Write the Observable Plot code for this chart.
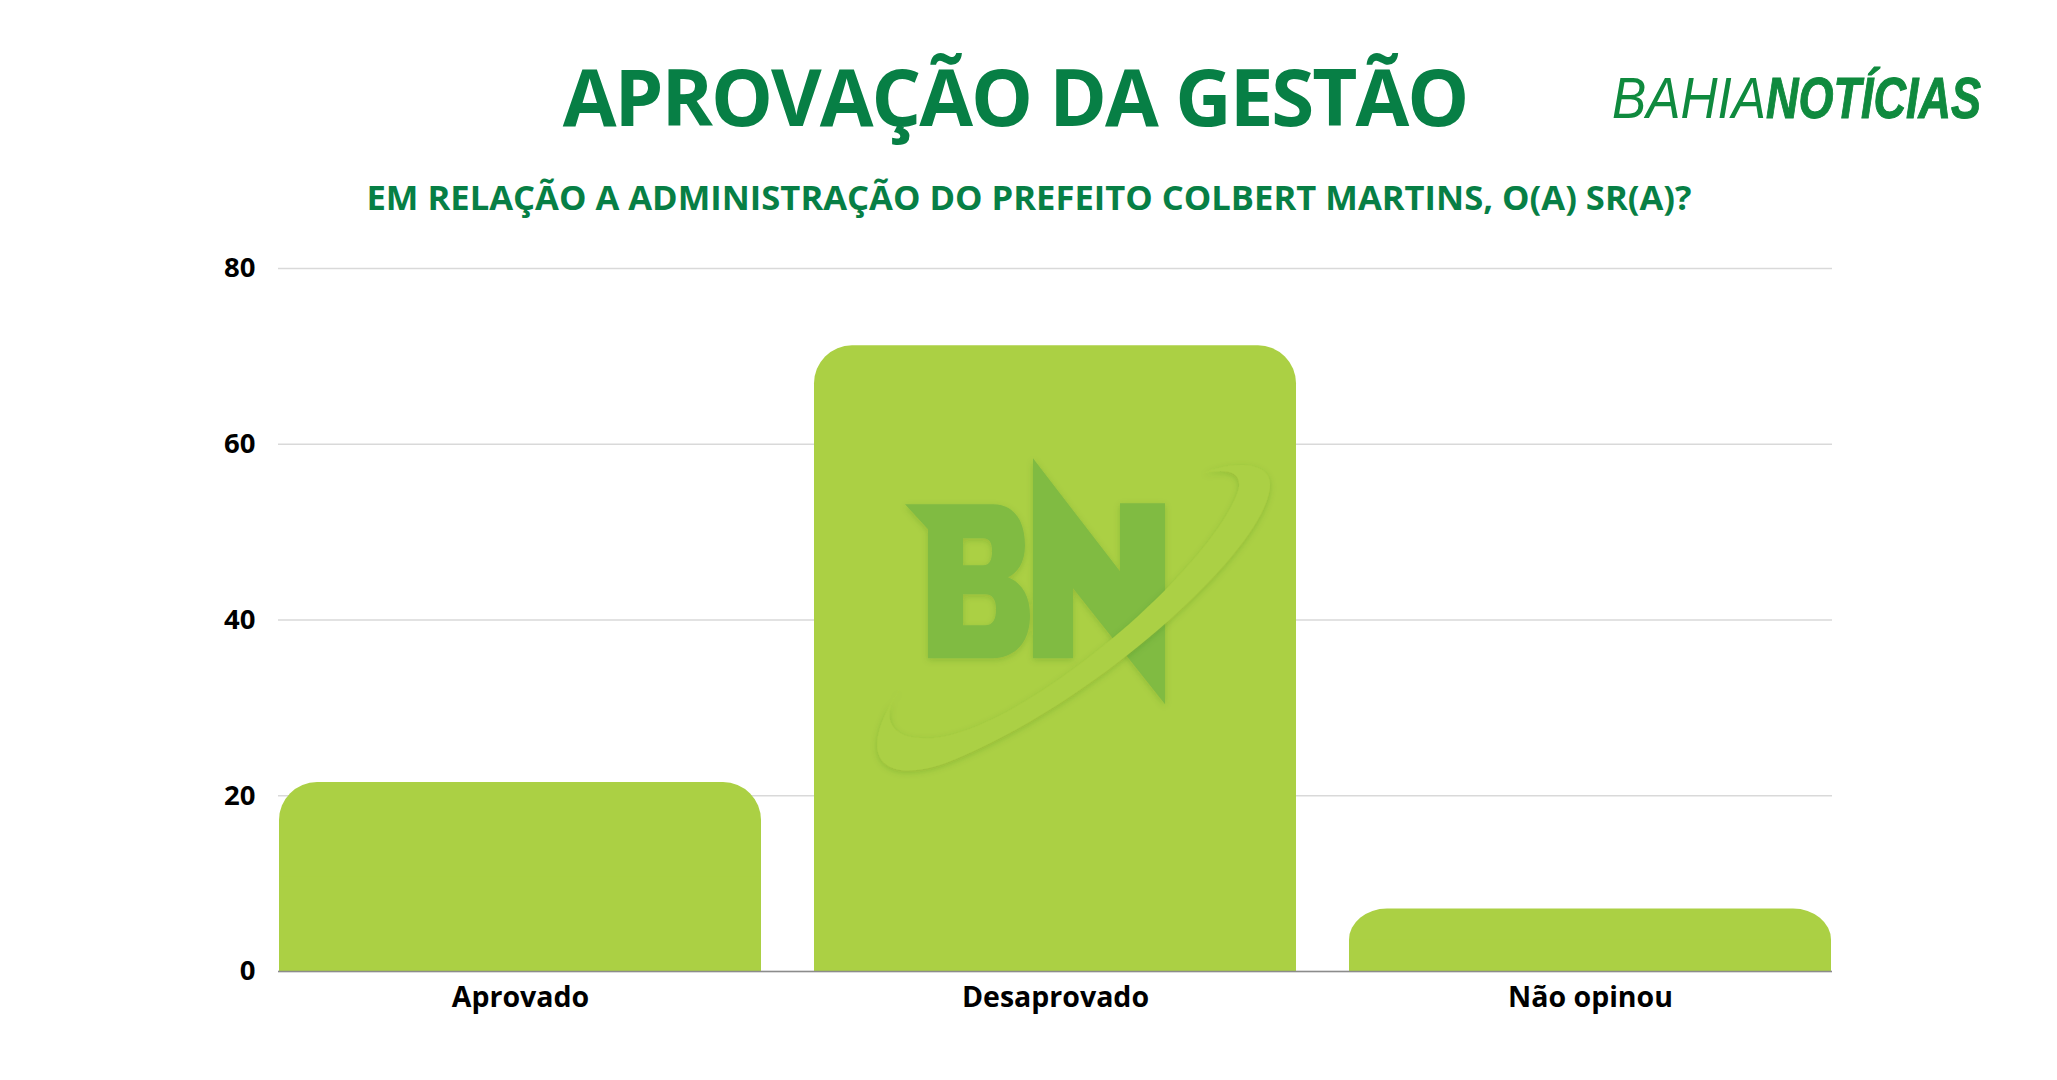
<!DOCTYPE html>
<html>
<head>
<meta charset="utf-8">
<script src="https://cdn.jsdelivr.net/npm/d3@7"></script>
<script src="https://cdn.jsdelivr.net/npm/@observablehq/plot@0.6"></script>
<style>
  html, body { margin: 0; padding: 0; background: #ffffff; }
  body { width: 2057px; height: 1080px; overflow: hidden; font-family: "Open Sans", sans-serif; }
  #header { position: relative; width: 2057px; height: 240px; }
  #title { position: absolute; left: 0; top: 57px; width: 2030px; margin: 0; text-align: center;
           font: 700 78px/78px "Open Sans", sans-serif; letter-spacing: -2px; color: #077f45; white-space: nowrap; }
  #subtitle { position: absolute; left: 0; top: 180px; width: 2058px; margin: 0; text-align: center;
              font: 700 34.6px/34.6px "Open Sans", sans-serif; color: #077f45; white-space: nowrap; }
  .logo { position: absolute; top: 70px; font-style: italic; font-size: 57px; line-height: 57px;
          font-family: "Liberation Sans", Arial, sans-serif; color: #0f8a3e; transform-origin: 0 0; white-space: nowrap; }
  #logo1 { left: 1612px; font-weight: 400; transform: scaleX(0.9); }
  #logo2 { left: 1766px; font-weight: 700; transform: scaleX(0.79); -webkit-text-stroke: 1px #0f8a3e; }
  #chart { position: relative; width: 2057px; height: 840px; }
  #chart svg { display: block; }
</style>
</head>
<body>
<div id="header">
  <h1 id="title">APROVAÇÃO DA GESTÃO</h1>
  <div id="subtitle">EM RELAÇÃO A ADMINISTRAÇÃO DO PREFEITO COLBERT MARTINS, O(A) SR(A)?</div>
  <span class="logo" id="logo1">BAHIA</span><span class="logo" id="logo2">NOTÍCIAS</span>
</div>
<div id="chart"></div>
<script>
const categories = ["Aprovado", "Desaprovado", "Não opinou"];
const values = [21.5, 71.2, 7.1];
const yTicks = [0, 20, 40, 60, 80];

const barColor = "#abd044";
const data = categories.map((c, i) => ({category: c, value: values[i]}));

const plot = Plot.plot({
  width: 2057,
  height: 840,
  marginTop: 28,
  marginBottom: 109,
  marginLeft: 278,
  marginRight: 225,
  style: {fontFamily: "Open Sans", color: "#000", background: "transparent"},
  x: {domain: categories, paddingInner: 0.1, paddingOuter: 0, label: null},
  y: {domain: [0, 80], label: null},
  marks: [
    Plot.gridY(yTicks, {stroke: "#d9d9d9", strokeOpacity: 1, strokeWidth: 1.4}),
    Plot.barY(data, {x: "category", y: "value", fill: barColor, rx: 38}),
    Plot.barY(data, {x: "category", y1: 0, y2: d => d.value / 2, fill: barColor}),
    Plot.ruleY([0], {stroke: "#8c8c8c", strokeWidth: 1.5}),
    Plot.axisY({ticks: yTicks, tickSize: 0, tickPadding: 23, fontSize: 27.5, fontWeight: 700, label: null}),
    Plot.axisX({tickSize: 0, tickPadding: 15, fontSize: 28.5, fontWeight: 700, label: null})
  ]
});
document.getElementById("chart").appendChild(plot);

// decorative watermark placed inside the "Desaprovado" bar, positioned from the scales
const xs = plot.scale("x"), ys = plot.scale("y");
const wi = categories.indexOf("Desaprovado");
const wmX = xs.apply(categories[wi]) + xs.bandwidth / 2;
const wmY = ys.apply(values[wi]);
const svgSel = d3.select(plot);
const defs = svgSel.append("defs");
defs.append("filter").attr("id", "wmShadow").attr("x", "-30%").attr("y", "-30%").attr("width", "160%").attr("height", "160%")
  .append("feDropShadow").attr("dx", 0).attr("dy", 2).attr("stdDeviation", 3)
  .attr("flood-color", "#2f5a10").attr("flood-opacity", 0.18);
const g = svgSel.append("g").attr("transform", `translate(${wmX},${wmY})`);
const letters = g.append("g").attr("filter", "url(#wmShadow)").attr("fill", "#80bb43");
letters.append("path").attr("fill-rule", "evenodd").attr("d",
  "M-150,159 H-62 C-38,159 -30,180 -30,200 C-30,218 -38,228 -47,232 C-32,238 -25,252 -25,270 C-25,298 -40,313 -65,313 H-127 V184 Z " +
  "M-92,193 H-72 C-65,193 -63,198 -63,206 C-63,214 -65,220 -72,220 H-92 Z " +
  "M-92,249 H-70 C-62,249 -59,255 -59,264 C-59,274 -62,280 -70,280 H-92 Z");
letters.append("path").attr("d",
  "M-22,113 L65,226 L65,158 L110,158 L110,359 L18,243 L18,313 L-22,313 Z");
g.append("path").attr("filter", "url(#wmShadow)").attr("fill", barColor).attr("d",
  "M-155,344 C-172,365 -172,394 -128,393 C-40,392 150,230 182,149 C190,128 175,122 148,128 C175,116 215,115 215,139 C215,200 40,360 -110,418 C-175,440 -200,410 -155,344 Z");
</script>
</body>
</html>
